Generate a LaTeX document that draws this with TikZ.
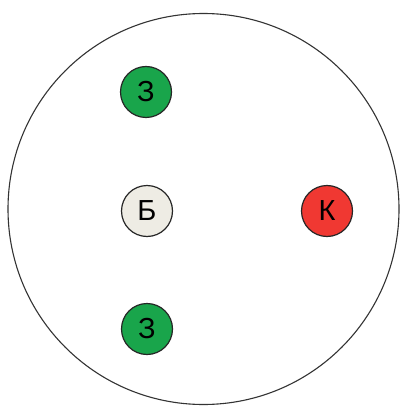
\documentclass[tikz,border=0pt]{standalone}
\usepackage{fontspec}
\setmainfont{Liberation Sans}
\usepackage{xcolor}
\usetikzlibrary{positioning}
\definecolor{zel}{RGB}{25,165,75}
\definecolor{bel}{RGB}{238,236,228}
\definecolor{kra}{RGB}{240,56,50}

\begin{document}
\begin{tikzpicture}[x=1pt, y=-1pt,
  dot/.style={draw=black!85, circle, line width=1.2pt, minimum size=51pt, inner sep=0pt, font=\fontsize{29}{29}\selectfont},
  zdot/.style={dot, fill=zel},
  bdot/.style={dot, fill=bel},
  kdot/.style={dot, fill=kra}
]
\useasboundingbox (0,0) rectangle (403,406);
\node[draw=black!80, circle, line width=1.1pt, minimum size=391pt, inner sep=0pt] (big) at (203.5,209) {};
\node[zdot] (z1) at (146,92) {З};
\node[bdot] (b) at (147,211) {Б};
\node[kdot] (k) at (327,211) {К};
\node[zdot] (z2) at (147,329) {З};
\end{tikzpicture}
\end{document}
